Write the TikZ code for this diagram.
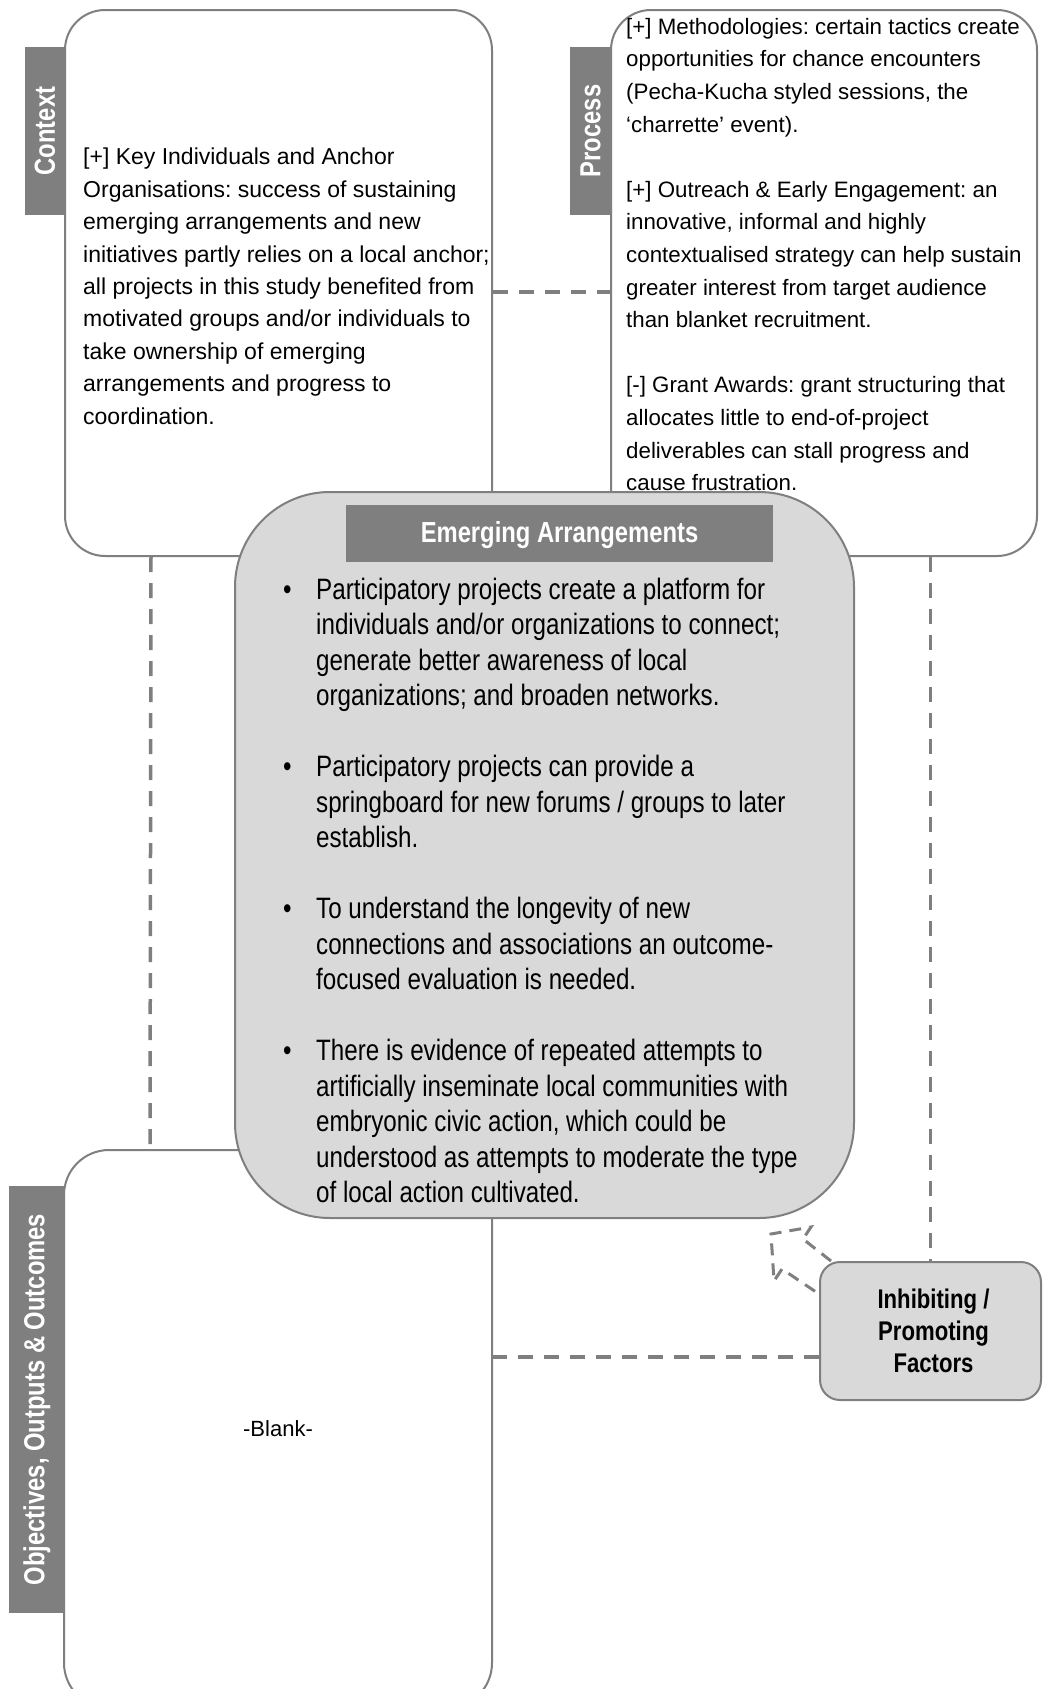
\documentclass[tikz,border=0pt]{standalone}
\usepackage{fontspec}
\setmainfont{Liberation Sans}
\newfontfamily\narrowfont[FakeStretch=0.82]{Liberation Sans}
\usetikzlibrary{positioning, calc}
\definecolor{FrameGrey}{HTML}{7F7F7F}
\definecolor{PanelGrey}{HTML}{D9D9D9}
\frenchspacing

\begin{document}
\begin{tikzpicture}[x=1pt, y=-1pt,
  panel/.style={
    draw=FrameGrey, line width=2pt, fill=white,
    rounded corners=40pt, inner sep=0pt
  },
  tab/.style={
    fill=FrameGrey, text=white, inner sep=0pt,
    font=\narrowfont\bfseries\fontsize{29}{32}\selectfont
  },
  body/.style={
    anchor=north west, inner sep=0pt, align=left,
    font=\fontsize{23}{32.4}\selectfont
  },
  link/.style={draw=FrameGrey, line width=3.5pt, dash pattern=on 15pt off 11pt}
]
  \useasboundingbox (0,0) rectangle (1043,1689);

  % side tabs
  \node[tab, rotate=90, minimum width=168pt, minimum height=40pt] (ctxtab) at (45,131) {Context};
  \node[tab, rotate=90, minimum width=168pt, minimum height=41pt] (proctab) at (590.5,131) {Process};
  \node[tab, rotate=90, minimum width=427pt, minimum height=56pt] (objtab) at (37,1399.5) {Objectives, Outputs \& Outcomes};

  % the three white panels
  \node[panel, minimum width=427pt, minimum height=546pt] (ctx) at (278.5,283) {};
  \node[panel, minimum width=426pt, minimum height=546pt] (proc) at (824,283) {};
  \node[panel, minimum width=428pt, minimum height=558pt, rounded corners=45pt,
        font=\fontsize{22}{26}\selectfont] (obj) at (278,1429) {-Blank-};

  \node[body] (ctxtext) at (83,148) {%
    {[}+{]} Key Individuals and Anchor\\
    Organisations: success of sustaining\\
    emerging arrangements and new\\
    initiatives partly relies on a local anchor;\\
    all projects in this study benefited from\\
    motivated groups and/or individuals to\\
    take ownership of emerging\\
    arrangements and progress to\\
    coordination.};

  \node[body, font=\fontsize{22.3}{32.6}\selectfont] (proctext) at (626,18) {%
    {[}+{]} Methodologies: certain tactics create\\
    opportunities for chance encounters\\
    (Pecha-Kucha styled sessions, the\\
    `charrette' event).\\[32.6pt]
    {[}+{]} Outreach \& Early Engagement: an\\
    innovative, informal and highly\\
    contextualised strategy can help sustain\\
    greater interest from target audience\\
    than blanket recruitment.\\[32.6pt]
    {[}-{]} Grant Awards: grant structuring that\\
    allocates little to end-of-project\\
    deliverables can stall progress and\\
    cause frustration.};

  % dashed links between panels
  \draw[link] ([yshift=-9pt]ctx.east) -- ([yshift=-9pt]proc.west);
  \draw[link] ([xshift=87pt]ctx.south west) -- ([xshift=87pt]obj.north west);

  % central panel
  \node[panel, fill=PanelGrey, rounded corners=95pt, minimum width=619pt, minimum height=726pt] (emerge) at (544.5,855) {};
  \node[tab, minimum width=427pt, minimum height=57pt, text depth=4pt] (emhead) at (559.5,533.5) {Emerging Arrangements};
  \node[anchor=north west, inner sep=0pt, font=\narrowfont\fontsize{29.5}{35.5}\selectfont] (emtext) at (287,574) {%
    \begin{tabular}{@{}p{29pt}@{}l@{}}
      \hspace*{-4pt}\textbullet & Participatory projects create a platform for\\
       & individuals and/or organizations to connect;\\
       & generate better awareness of local\\
       & organizations; and broaden networks.\\
       & \\
      \hspace*{-4pt}\textbullet & Participatory projects can provide a\\
       & springboard for new forums / groups to later\\
       & establish.\\
       & \\
      \hspace*{-4pt}\textbullet & To understand the longevity of new\\
       & connections and associations an outcome-\\
       & focused evaluation is needed.\\
       & \\
      \hspace*{-4pt}\textbullet & There is evidence of repeated attempts to\\
       & artificially inseminate local communities with\\
       & embryonic civic action, which could be\\
       & understood as attempts to moderate the type\\
       & of local action cultivated.
    \end{tabular}};

  % factors box
  \node[panel, fill=PanelGrey, rounded corners=20pt, minimum width=221pt, minimum height=138pt,
        align=center, font=\narrowfont\bfseries\fontsize{27}{32}\selectfont] (inhib) at (930.5,1331)
        {\hspace*{6pt}Inhibiting /\\\hspace*{6pt}Promoting\\\hspace*{6pt}Factors};

  \draw[link] (proc.south -| inhib.north) -- (inhib.north);
  \coordinate (objlink) at ([yshift=-26pt]inhib.west);
  \draw[link] (objlink) -- (objlink -| obj.east);

  % hollow arrow towards the central panel
  \draw[link, line width=3pt, dash pattern=on 12pt off 8pt] (inhib.north west) ++(12,0)
    -- ++(-28,-22) -- ++(8,-12) -- ++(-40,7) -- ++(3,47) -- ++(8,-12) -- ++(37,25);
\end{tikzpicture}
\end{document}
